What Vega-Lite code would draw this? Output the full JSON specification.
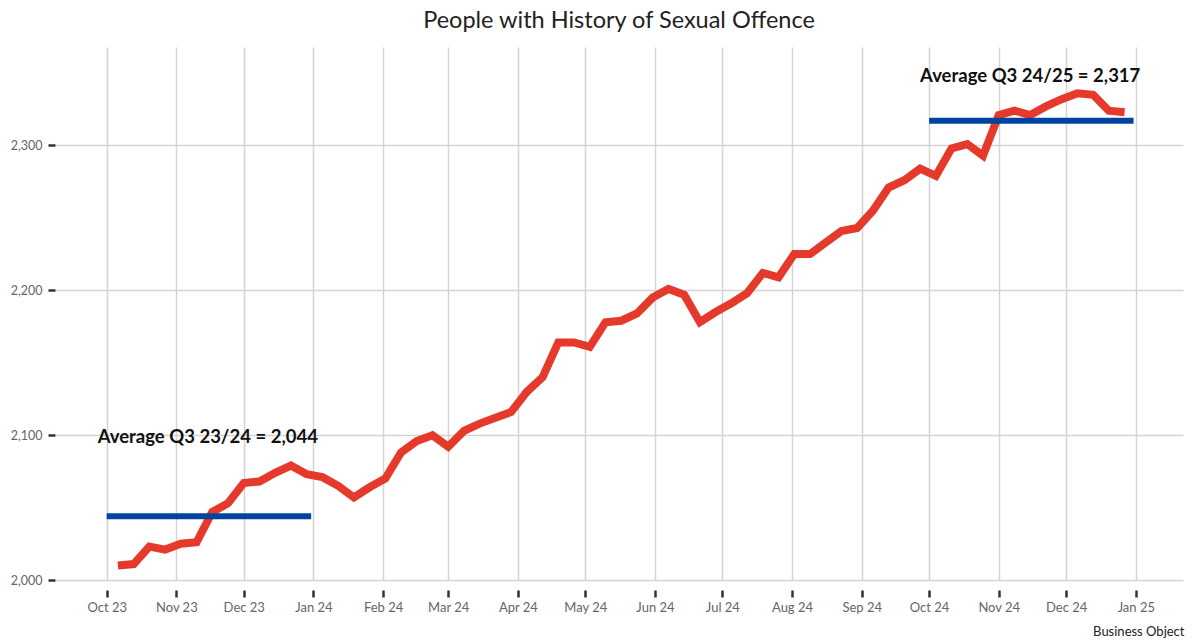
{
  "$schema": "https://vega.github.io/schema/vega-lite/v6.json",
  "width": 1128,
  "height": 533,
  "autosize": {"type": "none"},
  "padding": {"left": 55, "top": 47, "right": 9, "bottom": 64},
  "background": "white",
  "config": {
    "view": {"stroke": null},
    "font": "Lato"
  },
  "title": {
    "text": "People with History of Sexual Offence",
    "fontSize": 23.5,
    "fontWeight": "normal",
    "font": "Lato",
    "color": "#222222",
    "anchor": "middle",
    "baseline": "alphabetic",
    "offset": 19,
    "dy": 23,
    "dx": 0
  },
  "datasets": {
    "series": [
      {"date": "2023-10-06", "value": 2010},
      {"date": "2023-10-13", "value": 2011},
      {"date": "2023-10-20", "value": 2023},
      {"date": "2023-10-27", "value": 2021},
      {"date": "2023-11-03", "value": 2025},
      {"date": "2023-11-10", "value": 2026},
      {"date": "2023-11-17", "value": 2047},
      {"date": "2023-11-24", "value": 2053},
      {"date": "2023-12-01", "value": 2067},
      {"date": "2023-12-08", "value": 2068},
      {"date": "2023-12-15", "value": 2074},
      {"date": "2023-12-22", "value": 2079},
      {"date": "2023-12-29", "value": 2073},
      {"date": "2024-01-05", "value": 2071},
      {"date": "2024-01-12", "value": 2065},
      {"date": "2024-01-19", "value": 2057},
      {"date": "2024-01-26", "value": 2064},
      {"date": "2024-02-02", "value": 2070},
      {"date": "2024-02-09", "value": 2088},
      {"date": "2024-02-16", "value": 2096},
      {"date": "2024-02-23", "value": 2100},
      {"date": "2024-03-01", "value": 2092},
      {"date": "2024-03-08", "value": 2103},
      {"date": "2024-03-15", "value": 2108},
      {"date": "2024-03-22", "value": 2112},
      {"date": "2024-03-29", "value": 2116},
      {"date": "2024-04-05", "value": 2130},
      {"date": "2024-04-12", "value": 2140},
      {"date": "2024-04-19", "value": 2164},
      {"date": "2024-04-26", "value": 2164},
      {"date": "2024-05-03", "value": 2161},
      {"date": "2024-05-10", "value": 2178},
      {"date": "2024-05-17", "value": 2179},
      {"date": "2024-05-24", "value": 2184},
      {"date": "2024-05-31", "value": 2195},
      {"date": "2024-06-07", "value": 2201},
      {"date": "2024-06-14", "value": 2197},
      {"date": "2024-06-21", "value": 2178},
      {"date": "2024-06-28", "value": 2185},
      {"date": "2024-07-05", "value": 2191},
      {"date": "2024-07-12", "value": 2198},
      {"date": "2024-07-19", "value": 2212},
      {"date": "2024-07-26", "value": 2209},
      {"date": "2024-08-02", "value": 2225},
      {"date": "2024-08-09", "value": 2225},
      {"date": "2024-08-16", "value": 2233},
      {"date": "2024-08-23", "value": 2241},
      {"date": "2024-08-30", "value": 2243},
      {"date": "2024-09-06", "value": 2255},
      {"date": "2024-09-13", "value": 2271},
      {"date": "2024-09-20", "value": 2276},
      {"date": "2024-09-27", "value": 2284},
      {"date": "2024-10-04", "value": 2279},
      {"date": "2024-10-11", "value": 2298},
      {"date": "2024-10-18", "value": 2301},
      {"date": "2024-10-25", "value": 2293},
      {"date": "2024-11-01", "value": 2321},
      {"date": "2024-11-08", "value": 2324},
      {"date": "2024-11-15", "value": 2321},
      {"date": "2024-11-22", "value": 2327},
      {"date": "2024-11-29", "value": 2332},
      {"date": "2024-12-06", "value": 2336},
      {"date": "2024-12-13", "value": 2335},
      {"date": "2024-12-20", "value": 2324},
      {"date": "2024-12-27", "value": 2323}
    ],
    "averages": [
      {"start": "2023-10-01", "end": "2023-12-31", "value": 2044},
      {"start": "2024-10-01", "end": "2024-12-31", "value": 2317}
    ],
    "labels": [
      {"date": "2023-11-15", "value": 2094.5, "label": "Average Q3 23/24 = 2,044"},
      {"date": "2024-11-15", "value": 2344, "label": "Average Q3 24/25 = 2,317"}
    ]
  },
  "layer": [
    {
      "data": {"name": "series"},
      "mark": {"type": "line", "color": "#E5392B", "strokeWidth": 8, "strokeJoin": "miter"},
      "encoding": {
        "x": {
          "field": "date",
          "type": "temporal",
          "scale": {"type": "utc", "domain": ["2023-09-08", "2025-01-22"]},
          "axis": {
            "tickCount": {"interval": "month", "step": 1},
            "labelExpr": "utcFormat(datum.value, '%b %y')",
            "offset": 10,
            "domain": false,
            "grid": true,
            "gridColor": "#d4d4d4",
            "gridWidth": 1.5,
            "ticks": true,
            "tickSize": 7,
            "tickWidth": 2.5,
            "tickColor": "#333333",
            "labelFont": "Lato",
            "labelFontSize": 13,
            "labelColor": "#666666",
            "labelPadding": 4,
            "labelFlush": false,
            "labelOverlap": false,
            "title": "Business Object",
            "titleFont": "Lato",
            "titleFontSize": 13,
            "titleFontWeight": "normal",
            "titleColor": "#222222",
            "titleX": 1129,
            "titleY": 45,
            "titleAlign": "right",
            "titleBaseline": "alphabetic",
            "titleAnchor": null
          }
        },
        "y": {
          "field": "value",
          "type": "quantitative",
          "scale": {"domain": [2000, 2368], "nice": false, "zero": false},
          "axis": {
            "values": [2000, 2100, 2200, 2300],
            "format": ",d",
            "domain": false,
            "grid": true,
            "gridColor": "#d4d4d4",
            "gridWidth": 1.5,
            "tickSize": 7,
            "tickWidth": 2.5,
            "tickColor": "#333333",
            "labelFont": "Lato",
            "labelFontSize": 12.5,
            "labelColor": "#666666",
            "labelPadding": 6,
            "title": null
          }
        }
      }
    },
    {
      "data": {"name": "labels"},
      "mark": {"type": "text", "font": "Lato", "fontSize": 18.5, "fontWeight": "bold", "color": "#111111", "align": "center", "baseline": "alphabetic"},
      "encoding": {
        "x": {"field": "date", "type": "temporal"},
        "y": {"field": "value", "type": "quantitative"},
        "text": {"field": "label"}
      }
    },
    {
      "data": {"name": "averages"},
      "mark": {"type": "rule", "color": "#00449E", "strokeWidth": 6},
      "encoding": {
        "x": {"field": "start", "type": "temporal"},
        "x2": {"field": "end"},
        "y": {"field": "value", "type": "quantitative"}
      }
    }
  ]
}
